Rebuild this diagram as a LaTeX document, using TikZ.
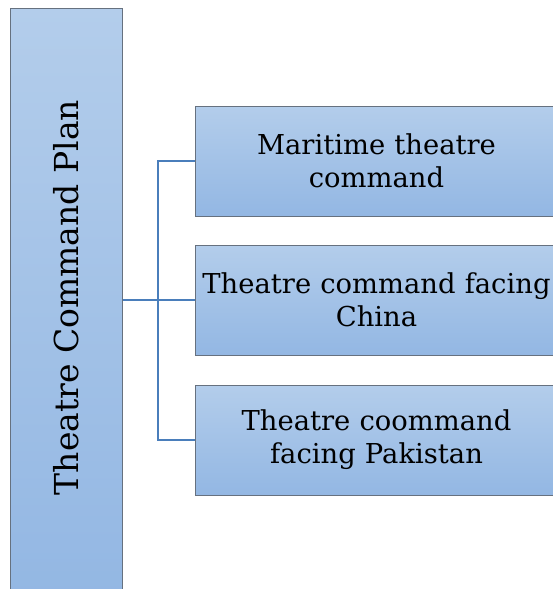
\documentclass[tikz,border=0pt]{standalone}
\usepackage{fontspec}
\setmainfont{DejaVu Serif}
\usepackage{xcolor}
\usetikzlibrary{positioning, calc}
\definecolor{boxtop}{HTML}{B3CDEB}
\definecolor{boxbottom}{HTML}{93B7E3}
\definecolor{boxline}{HTML}{66717F}
\definecolor{linkblue}{HTML}{4A7EBB}
\tikzset{every picture/.style={x=1pt, y=1pt},
         planbox/.style={draw=boxline, line width=1pt, top color=boxtop, bottom color=boxbottom, inner sep=0pt},
         unitbox/.style={planbox, minimum width=362pt, minimum height=110pt, anchor=west, align=center, text width=360pt, font=\fontsize{27.4}{33}\selectfont},
         link/.style={draw=linkblue, line width=1.5pt}
        }
\begin{document}
\begin{tikzpicture}
\useasboundingbox (0,0) rectangle (552,-589);
\fill[white] (0,0) rectangle (552,-589);
\node[planbox, minimum width=112pt, minimum height=590pt, anchor=north west](plan) at (10,-8){};
\node[rotate=90, font=\fontsize{33}{38}\selectfont] at ($(plan.center)+(0,6)$) {Theatre Command Plan};

\node[unitbox](maritime) at (195,-161){Maritime theatre\\command};
\node[unitbox](china) at (195,-300){Theatre command facing\\China};
\node[unitbox](pakistan) at (195,-440){Theatre coommand\\facing Pakistan};

\coordinate (hub) at (158,-300);
\draw[link](plan.east |- hub) -- (hub);
\draw[link](maritime.west) -| (hub) |- (pakistan.west);
\draw[link](hub) -- (china.west);
\end{tikzpicture}
\end{document}
